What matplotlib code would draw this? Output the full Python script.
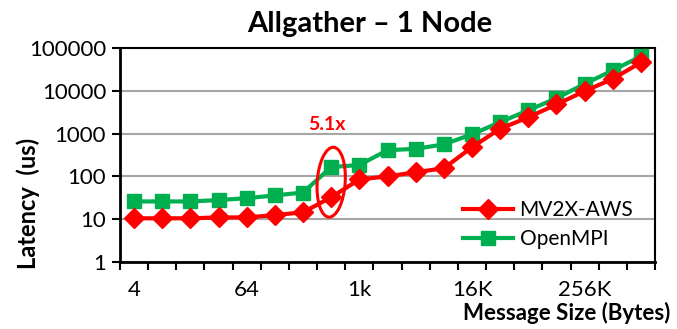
import matplotlib
matplotlib.use("Agg")
import matplotlib.pyplot as plt
import matplotlib.transforms as mtransforms
from matplotlib.patches import Ellipse
import numpy as np

plt.rcParams['font.family'] = ['Lato', 'DejaVu Sans']

# message sizes (one category per power of two) and latencies in us
sizes = ["4", "8", "16", "32", "64", "128", "256", "512", "1k", "2k", "4k",
         "8k", "16K", "32K", "64K", "128K", "256K", "512K", "1M"]
mv2x_aws = [10.5, 10.5, 10.5, 11, 11, 12.5, 14.5, 32.5, 85, 100, 125,
            155, 480, 1300, 2400, 4800, 9800, 19000, 46000]
openmpi = [26, 26, 26, 28, 31, 36, 42, 165, 185, 410, 440,
           560, 960, 1850, 3500, 6700, 14500, 30000, 64000]
shown_labels = ["4", "64", "1k", "16K", "256K"]
speedup_idx = 7
speedup_text = "5.1x"

RED = "#ff0000"
GREEN = "#00b050"

fig = plt.figure(figsize=(6.77, 3.29), dpi=100)
ax = fig.add_axes([120 / 677, 67 / 329, 535 / 677, 214 / 329])

x = np.arange(len(sizes))
ax.plot(x, mv2x_aws, color=RED, lw=3, marker="D", ms=10, label="MV2X-AWS", zorder=4)
ax.plot(x, openmpi, color=GREEN, lw=3, marker="s", ms=9.5, label="OpenMPI", zorder=3)

ax.set_yscale("log")
ax.set_ylim(1, 100000)
ax.set_yticks([1, 10, 100, 1000, 10000, 100000])
ax.set_yticklabels(["1", "10", "100", "1000", "10000", "100000"])
ax.yaxis.set_minor_locator(matplotlib.ticker.NullLocator())
ax.grid(axis="y", color="#a6a6a6", lw=1.5, zorder=0)

ax.set_xlim(-0.5, len(sizes) - 0.5)
pos = [sizes.index(s) for s in shown_labels]
ax.set_xticks(pos)
ax.set_xticklabels(shown_labels)
ax.set_xticks(np.arange(-0.5, len(sizes)), minor=True)
ax.tick_params(axis="x", which="major", length=0, pad=13, labelsize=16)
ax.tick_params(axis="x", which="minor", length=6, width=1.5, direction="out")
ax.tick_params(axis="y", length=6, width=1.5, direction="out", labelsize=16, pad=4)

for side in ["left", "bottom"]:
    ax.spines[side].set_linewidth(2)
for side in ["top", "right"]:
    ax.spines[side].set_linewidth(1.5)

leg = ax.legend(loc="lower right", bbox_to_anchor=(0.975, 0.02), frameon=False,
                fontsize=15, handlelength=2.4, handletextpad=0.3, borderaxespad=0,
                labelspacing=0.45)

# ellipse around the 512-byte point, positioned in data coords, sized in inches
cy = np.sqrt(mv2x_aws[speedup_idx] * openmpi[speedup_idx])
trans = fig.dpi_scale_trans + mtransforms.ScaledTranslation(speedup_idx, cy, ax.transData)
ell = Ellipse((0, 0), 0.28, 0.70, angle=-4, fill=False, edgecolor=RED, lw=2.2,
              transform=trans, zorder=5)
ax.add_patch(ell)
ax.annotate(speedup_text, xy=(speedup_idx, openmpi[speedup_idx]),
            xytext=(-3, 31), textcoords="offset points", ha="center", va="center",
            color=RED, fontsize=14, fontweight="bold")

fig.text(370 / 677, 1 - 32 / 329, "Allgather \u2013 1 Node", ha="center",
         va="baseline", fontsize=21, fontweight="bold")
fig.text(28 / 677, 1 - 203 / 329, "Latency  (us)", rotation=90, ha="center",
         va="center", fontsize=17, fontweight="bold")
fig.text(670 / 677, 1 - 320 / 329, "Message Size (Bytes)", ha="right",
         va="baseline", fontsize=16, fontweight="bold")

fig.savefig("out.png", dpi=100)
